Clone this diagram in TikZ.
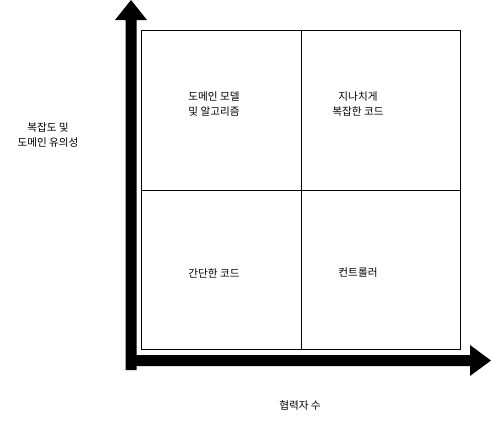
\documentclass[tikz,border=0pt]{standalone}
\usepackage{fontspec}
\setmainfont{Noto Sans CJK KR}
\begin{document}
\begin{tikzpicture}[x=1pt,y=-1pt,
  cell/.style={draw=black,line width=1pt,minimum width=159.5pt,minimum height=159.5pt,inner sep=0pt,anchor=north west},
  lbl/.style={font=\fontsize{10.6}{15}\selectfont,align=center,inner sep=0pt},
  axis/.style={fill=black}]
\useasboundingbox (0,0) rectangle (491,421);
\fill[white] (0,0) rectangle (491,421);
% axes
\coordinate (o) at (125.5,370);
\fill[axis] (125.5,370) -- (125.5,20) -- (115,20) -- (131,0) -- (147,20) -- (136.5,20) -- (136.5,355) -- (470,355) -- (470,345) -- (491,360.5) -- (470,376) -- (470,366) -- (136.5,366) -- (136.5,370) -- cycle;
% cells
\node[cell] (tl) at (141,30) {};
\node[cell] (tr) at (300.5,30) {};
\node[cell] (bl) at (141,189.5) {};
\node[cell] (br) at (300.5,189.5) {};
% texts
\node[lbl] (t1) at (214,104) {도메인 모델\\및 알고리즘};
\node[lbl] (t2) at (358,104) {지나치게\\복잡한 코드};
\node[lbl] (t3) at (214,273) {간단한 코드};
\node[lbl] (t4) at (358,273) {컨트롤러};
\node[lbl] (ylab) at (48,135.5) {복잡도 및\\도메인 유의성};
\node[lbl] (xlab) at (300,405) {협력자 수};
\end{tikzpicture}
\end{document}
